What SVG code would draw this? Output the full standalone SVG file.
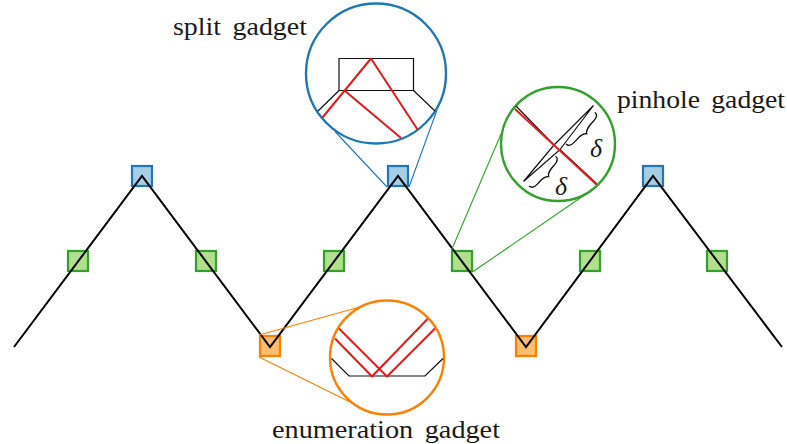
<svg xmlns="http://www.w3.org/2000/svg" width="787" height="444" viewBox="0 0 787 444">
<style>
text{font-family:"Liberation Serif","Times New Roman",serif;fill:#1a1a1a}
.label{font-size:25px;word-spacing:4px}
.delta{font-size:26px;font-style:italic}
.thin{fill:none;stroke:#111;stroke-width:1.2}
.ray{fill:none;stroke:#e31a1c;stroke-width:2;stroke-linejoin:round}
.lens{fill:#fff;stroke-width:2.4}
.sq{stroke-width:2.2}
.blue{stroke:#1f78b4}.green{stroke:#33a02c}.orange{stroke:#ff7f00}
.sb{fill:#a6cee3;stroke:#1f78b4}.sg{fill:#b2df8a;stroke:#33a02c}.so{fill:#fdbf6f;stroke:#ff7f00}
.lead{stroke-width:1.1;fill:none}
.brace{fill:none;stroke:#111;stroke-width:1.3}
</style>
<defs>
<rect id="s" x="-10" y="-10" width="20" height="20"/>
</defs>
<g id="squares">
<g id="node-blue-1"><use href="#s" x="142" y="176" class="sq sb"/></g>
<g id="node-blue-2"><use href="#s" x="398" y="176" class="sq sb"/></g>
<g id="node-blue-3"><use href="#s" x="653" y="176" class="sq sb"/></g>
<g id="node-green-1"><use href="#s" x="78" y="261" class="sq sg"/></g>
<g id="node-green-2"><use href="#s" x="206" y="261" class="sq sg"/></g>
<g id="node-green-3"><use href="#s" x="334" y="261" class="sq sg"/></g>
<g id="node-green-4"><use href="#s" x="462" y="261" class="sq sg"/></g>
<g id="node-green-5"><use href="#s" x="590" y="261" class="sq sg"/></g>
<g id="node-green-6"><use href="#s" x="717" y="261" class="sq sg"/></g>
<g id="node-orange-1"><use href="#s" x="270" y="346" class="sq so"/></g>
<g id="node-orange-2"><use href="#s" x="526" y="346" class="sq so"/></g>
</g>
<g id="connectors">
<polyline id="zigzag" points="14,347 142,176 270,347 398,176 526,347 653,176 782,347" fill="none" stroke="#000" stroke-width="2"/>
<path class="lead blue" d="M387,187L335,131.5M409,187L437,110"/>
<path class="lead green" d="M451.5,250L501,134M472.5,272L586,194"/>
<path class="lead orange" d="M259,335L363.5,306M259,357L350,402"/>
</g>
<g id="split-gadget">
<circle class="lens blue" cx="376" cy="73.5" r="70"/>
<path class="thin" d="M339,58.5H413.5V90.5H339ZM339,90.5L318,111M413.5,90.5L435,111"/>
<path class="ray" d="M322.5,117.5L371,58.5L417.5,129.5M344.5,90.5L401,138"/>
<text class="label" x="173" y="35" textLength="134" lengthAdjust="spacingAndGlyphs">split gadget</text>
</g>
<g id="pinhole-gadget">
<circle class="lens green" cx="558" cy="144" r="57"/>
<path class="thin" d="M516,106L554,145L523.5,181.5L560,149.5L597,184M554,145L593.5,105.5L560,149.5"/>
<path class="ray" d="M515,109L596.5,184.5"/>
<path class="brace" transform="translate(566,144) rotate(-47.8)" d="M0,0C0,4 3,5 7,5C13,5 19,4.5 21.5,8.5C24,4.5 30,5 36,5C40,5 43,4 43,0"/>
<path class="brace" transform="translate(529,186) rotate(-48.3)" d="M0,0C0,4 3,5 7,5C12,5 17.5,4.5 20,8.5C22.5,4.5 28,5 33,5C37,5 40,4 40,0"/>
<text class="delta" x="590" y="157">δ</text>
<text class="delta" x="555" y="195">δ</text>
<text class="label" x="617" y="108" textLength="168" lengthAdjust="spacingAndGlyphs">pinhole gadget</text>
</g>
<g id="enumeration-gadget">
<circle class="lens orange" cx="387" cy="357.5" r="57"/>
<path class="thin" d="M331.5,358.5L349,376H425L443,358.5"/>
<path class="ray" d="M335,338.5L372,376.5L427.5,319M339,328.5L387,376.5L435,328.5"/>
<text class="label" x="272" y="438" textLength="228" lengthAdjust="spacingAndGlyphs">enumeration gadget</text>
</g>
</svg>
